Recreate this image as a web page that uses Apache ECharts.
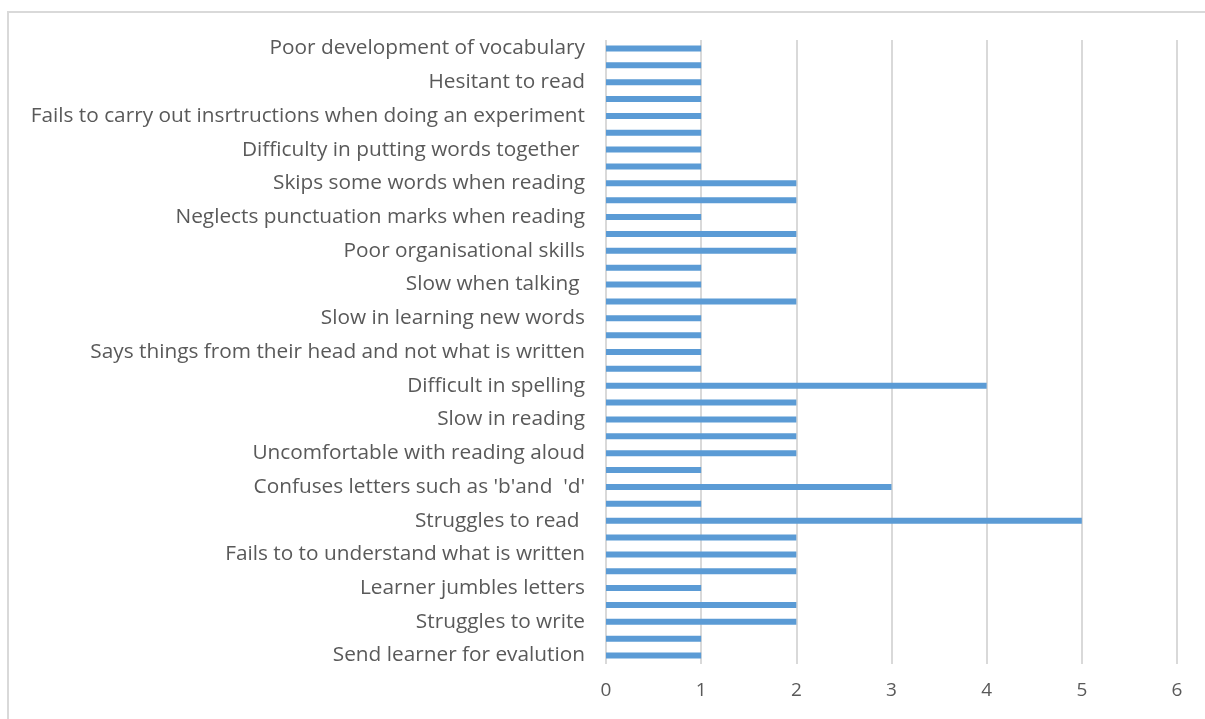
<!DOCTYPE html>
<html>
<head>
<meta charset="utf-8">
<script src="https://cdn.jsdelivr.net/npm/echarts@6/dist/echarts.min.js"></script>
<style>
  html, body { margin: 0; padding: 0; background: #fff; }
  #chart { width: 1205px; height: 719px; }
</style>
</head>
<body>
<div id="chart"></div>
<script>
// categories from bottom to top, only every second one carries a label
var categories = [
  "Send learner for evalution", "",
  "Struggles to write", "",
  "Learner jumbles letters", "",
  "Fails to to understand what is written", "",
  "Struggles to read ", "",
  "Confuses letters such as 'b'and  'd'", "",
  "Uncomfortable with reading aloud", "",
  "Slow in reading", "",
  "Difficult in spelling", "",
  "Says things from their head and not what is written", "",
  "Slow in learning new words", "",
  "Slow when talking ", "",
  "Poor organisational skills", "",
  "Neglects punctuation marks when reading", "",
  "Skips some words when reading", "",
  "Difficulty in putting words together ", "",
  "Fails to carry out insrtructions when doing an experiment", "",
  "Hesitant to read", "",
  "Poor development of vocabulary"
];
var values = [
  1, 1, 2, 2, 1, 2, 2, 2, 5, 1,
  3, 1, 2, 2, 2, 2, 4, 1, 1, 1,
  1, 2, 1, 1, 2, 2, 1, 2, 2, 1,
  1, 1, 1, 1, 1, 1, 1
];
var xTicks = [0, 6, 1]; // min, max, interval

var myChart = echarts.init(document.getElementById("chart"));

var option = {
  animation: false,
  backgroundColor: "#fff",
  textStyle: { fontFamily: "Open Sans" },
  graphic: [
    {
      // chart area border (only top and left are inside the picture)
      type: "rect",
      shape: { x: 8, y: 12, width: 1250, height: 760 },
      style: { fill: "none", stroke: "#d9d9d9", lineWidth: 2 },
      silent: true
    }
  ],
  grid: {
    left: 606,
    right: 28,
    top: 40,
    bottom: 55
  },
  xAxis: {
    type: "value",
    min: xTicks[0],
    max: xTicks[1],
    interval: xTicks[2],
    axisLine: { show: false },
    axisTick: { show: false },
    axisLabel: { color: "#595959", fontSize: 19, margin: 17 },
    splitLine: { lineStyle: { color: "#d9d9d9", width: 2 } }
  },
  yAxis: {
    type: "category",
    data: categories,
    axisLine: { show: false },
    axisTick: { show: false },
    axisLabel: {
      interval: 0,
      color: "#595959",
      fontSize: 20.8,
      margin: 21,
      padding: [5, 0, 0, 0]
    },
    splitLine: { show: false }
  },
  series: [
    {
      type: "bar",
      data: values,
      barWidth: 6,
      itemStyle: { color: "#5b9bd5" }
    }
  ]
};

myChart.setOption(option);
</script>
</body>
</html>
